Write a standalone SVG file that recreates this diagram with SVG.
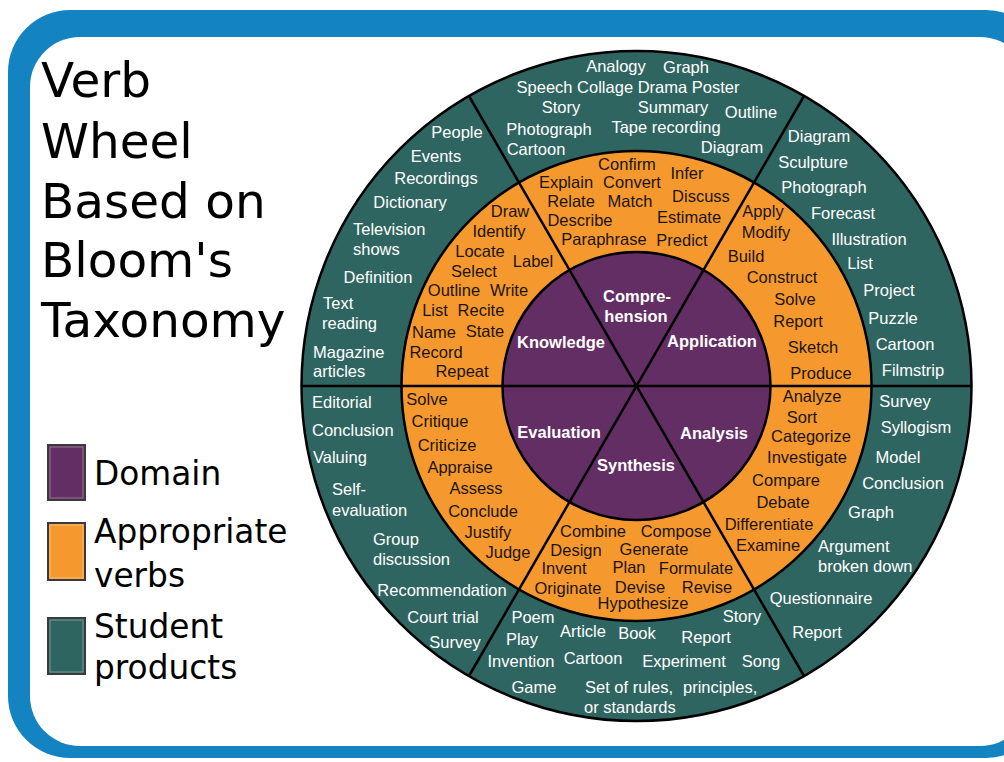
<svg xmlns="http://www.w3.org/2000/svg" width="1004" height="762" viewBox="0 0 1004 762">
<style>
.t{font-family:"Liberation Sans",Arial,sans-serif;font-size:16.5px;fill:#ffffff;text-anchor:middle}
.ts{font-family:"Liberation Sans",Arial,sans-serif;font-size:16.5px;fill:#ffffff;text-anchor:start}
.v{font-family:"Liberation Sans",Arial,sans-serif;font-size:16.5px;fill:#1c140b;text-anchor:middle}
.d{font-family:"Liberation Sans",Arial,sans-serif;font-size:16.5px;font-weight:bold;fill:#ffffff;text-anchor:middle}
.title{font-family:"DejaVu Sans",Verdana,sans-serif;font-size:48.5px;fill:#000000}
.leg{font-family:"DejaVu Sans",Verdana,sans-serif;font-size:32.8px;fill:#000000}
.ring{stroke:#000000;stroke-width:2.5}
.div{stroke:#000000;stroke-width:2.5;fill:none}
.box{stroke:#3a3a3a;stroke-width:2}
.boxin{fill:none;stroke:#ffffff;stroke-opacity:0.35;stroke-width:1}
</style>
<rect x="0" y="0" width="1004" height="762" fill="#ffffff"/>
<g id="frame">
<rect x="8" y="10" width="1040" height="748" rx="62" fill="#1383c2"/>
<rect x="30" y="37" width="1000" height="709" rx="50" fill="#ffffff"/>
</g>
<g id="title">
<text class="title" x="41" y="97">Verb</text>
<text class="title" x="41" y="158">Wheel</text>
<text class="title" x="41" y="218">Based on</text>
<text class="title" x="41" y="277">Bloom's</text>
<text class="title" x="41" y="337">Taxonomy</text>
</g>
<g id="legend-domain">
<rect class="box" x="48" y="445" width="37" height="55" fill="#622e63"/>
<rect class="boxin" x="50" y="447" width="33" height="51"/>
<text class="leg" x="94" y="485">Domain</text>
</g>
<g id="legend-verbs">
<rect class="box" x="48" y="523" width="37" height="57" fill="#f5992f"/>
<rect class="boxin" x="50" y="525" width="33" height="53"/>
<text class="leg" x="94" y="543">Appropriate</text>
<text class="leg" x="94" y="587">verbs</text>
</g>
<g id="legend-products">
<rect class="box" x="48" y="618" width="37" height="56" fill="#2f6561"/>
<rect class="boxin" x="50" y="620" width="33" height="52"/>
<text class="leg" x="94" y="638">Student</text>
<text class="leg" x="94" y="679">products</text>
</g>
<g id="wheel-rings">
<circle class="ring" cx="636.5" cy="386" r="335" fill="#2f6561" stroke-width="3"/>
<circle class="ring" cx="636.5" cy="386" r="235" fill="#f5992f"/>
<circle class="ring" cx="636.5" cy="386" r="134" fill="#622e63"/>
</g>
<g id="connectors">
<line class="div" x1="301.5" y1="386" x2="971.5" y2="386"/>
<line class="div" x1="469" y1="96" x2="804" y2="676"/>
<line class="div" x1="804" y1="96" x2="469" y2="676"/>
</g>
<g id="knowledge">
<text class="d" x="561" y="348">Knowledge</text>
<text class="v" x="510" y="217">Draw</text>
<text class="v" x="499" y="237">Identify</text>
<text class="v" x="480" y="257">Locate</text>
<text class="v" x="533" y="267">Label</text>
<text class="v" x="474" y="277">Select</text>
<text class="v" x="454" y="296">Outline</text>
<text class="v" x="509" y="296">Write</text>
<text class="v" x="435" y="316">List</text>
<text class="v" x="481" y="316">Recite</text>
<text class="v" x="434" y="338">Name</text>
<text class="v" x="485" y="337">State</text>
<text class="v" x="436" y="358">Record</text>
<text class="v" x="462" y="377">Repeat</text>
<text class="t" x="457" y="138">People</text>
<text class="t" x="436" y="162">Events</text>
<text class="t" x="436" y="184">Recordings</text>
<text class="t" x="410" y="208">Dictionary</text>
<text class="ts" x="353" y="235">Television</text>
<text class="ts" x="353" y="255">shows</text>
<text class="t" x="378" y="283">Definition</text>
<text class="ts" x="323" y="309">Text</text>
<text class="ts" x="322" y="329">reading</text>
<text class="ts" x="313" y="358">Magazine</text>
<text class="ts" x="313" y="377">articles</text>
</g>
<g id="comprehension">
<text class="d" x="637" y="302">Compre-</text>
<text class="d" x="636" y="322">hension</text>
<text class="v" x="627" y="170">Confirm</text>
<text class="v" x="687" y="179">Infer</text>
<text class="v" x="566" y="188">Explain</text>
<text class="v" x="632" y="188">Convert</text>
<text class="v" x="701" y="202">Discuss</text>
<text class="v" x="571" y="207">Relate</text>
<text class="v" x="630" y="207">Match</text>
<text class="v" x="689" y="223">Estimate</text>
<text class="v" x="580" y="226">Describe</text>
<text class="v" x="604" y="245">Paraphrase</text>
<text class="v" x="682" y="246">Predict</text>
<text class="t" x="616" y="72">Analogy</text>
<text class="t" x="686" y="73">Graph</text>
<text class="t" x="628" y="93">Speech Collage Drama Poster</text>
<text class="t" x="561" y="113">Story</text>
<text class="t" x="673" y="113">Summary</text>
<text class="t" x="751" y="118">Outline</text>
<text class="t" x="549" y="135">Photograph</text>
<text class="t" x="666" y="133">Tape recording</text>
<text class="t" x="536" y="155">Cartoon</text>
<text class="t" x="732" y="153">Diagram</text>
</g>
<g id="application">
<text class="d" x="712" y="347">Application</text>
<text class="v" x="763" y="217">Apply</text>
<text class="v" x="766" y="238">Modify</text>
<text class="v" x="746" y="262">Build</text>
<text class="v" x="782" y="283">Construct</text>
<text class="v" x="795" y="305">Solve</text>
<text class="v" x="798" y="327">Report</text>
<text class="v" x="813" y="353">Sketch</text>
<text class="v" x="821" y="379">Produce</text>
<text class="t" x="819" y="142">Diagram</text>
<text class="t" x="813" y="168">Sculpture</text>
<text class="t" x="824" y="193">Photograph</text>
<text class="t" x="843" y="219">Forecast</text>
<text class="t" x="869" y="245">Illustration</text>
<text class="t" x="860" y="269">List</text>
<text class="t" x="889" y="296">Project</text>
<text class="t" x="893" y="324">Puzzle</text>
<text class="t" x="905" y="350">Cartoon</text>
<text class="t" x="913" y="376">Filmstrip</text>
</g>
<g id="analysis">
<text class="d" x="714" y="439">Analysis</text>
<text class="v" x="812" y="402">Analyze</text>
<text class="v" x="802" y="423">Sort</text>
<text class="v" x="811" y="442">Categorize</text>
<text class="v" x="807" y="463">Investigate</text>
<text class="v" x="786" y="486">Compare</text>
<text class="v" x="783" y="508">Debate</text>
<text class="v" x="769" y="530">Differentiate</text>
<text class="v" x="768" y="551">Examine</text>
<text class="t" x="905" y="407">Survey</text>
<text class="t" x="916" y="433">Syllogism</text>
<text class="t" x="898" y="463">Model</text>
<text class="t" x="903" y="489">Conclusion</text>
<text class="t" x="871" y="518">Graph</text>
<text class="ts" x="818" y="552">Argument</text>
<text class="ts" x="818" y="572">broken down</text>
<text class="t" x="821" y="604">Questionnaire</text>
<text class="t" x="817" y="638">Report</text>
</g>
<g id="synthesis">
<text class="d" x="636" y="471">Synthesis</text>
<text class="v" x="593" y="537">Combine</text>
<text class="v" x="676" y="537">Compose</text>
<text class="v" x="576" y="556">Design</text>
<text class="v" x="654" y="555">Generate</text>
<text class="v" x="564" y="574">Invent</text>
<text class="v" x="629" y="573">Plan</text>
<text class="v" x="696" y="574">Formulate</text>
<text class="v" x="568" y="594">Originate</text>
<text class="v" x="640" y="593">Devise</text>
<text class="v" x="707" y="593">Revise</text>
<text class="v" x="643" y="609">Hypothesize</text>
<text class="t" x="533" y="623">Poem</text>
<text class="t" x="522" y="645">Play</text>
<text class="t" x="521" y="667">Invention</text>
<text class="t" x="534" y="693">Game</text>
<text class="t" x="583" y="637">Article</text>
<text class="t" x="637" y="639">Book</text>
<text class="t" x="742" y="622">Story</text>
<text class="t" x="706" y="643">Report</text>
<text class="t" x="593" y="664">Cartoon</text>
<text class="t" x="684" y="667">Experiment</text>
<text class="t" x="761" y="667">Song</text>
<text class="ts" x="585" y="693">Set of rules,</text>
<text class="ts" x="683" y="693">principles,</text>
<text class="ts" x="584" y="713">or standards</text>
</g>
<g id="evaluation">
<text class="d" x="559" y="438">Evaluation</text>
<text class="v" x="427" y="405">Solve</text>
<text class="v" x="440" y="427">Critique</text>
<text class="v" x="447" y="451">Criticize</text>
<text class="v" x="460" y="473">Appraise</text>
<text class="v" x="476" y="494">Assess</text>
<text class="v" x="483" y="517">Conclude</text>
<text class="v" x="488" y="538">Justify</text>
<text class="v" x="508" y="558">Judge</text>
<text class="ts" x="312" y="408">Editorial</text>
<text class="ts" x="312" y="436">Conclusion</text>
<text class="ts" x="313" y="463">Valuing</text>
<text class="ts" x="332" y="495">Self-</text>
<text class="ts" x="332" y="516">evaluation</text>
<text class="ts" x="373" y="545">Group</text>
<text class="ts" x="373" y="565">discussion</text>
<text class="t" x="442" y="596">Recommendation</text>
<text class="t" x="443" y="623">Court trial</text>
<text class="t" x="455" y="648">Survey</text>
</g>
</svg>
